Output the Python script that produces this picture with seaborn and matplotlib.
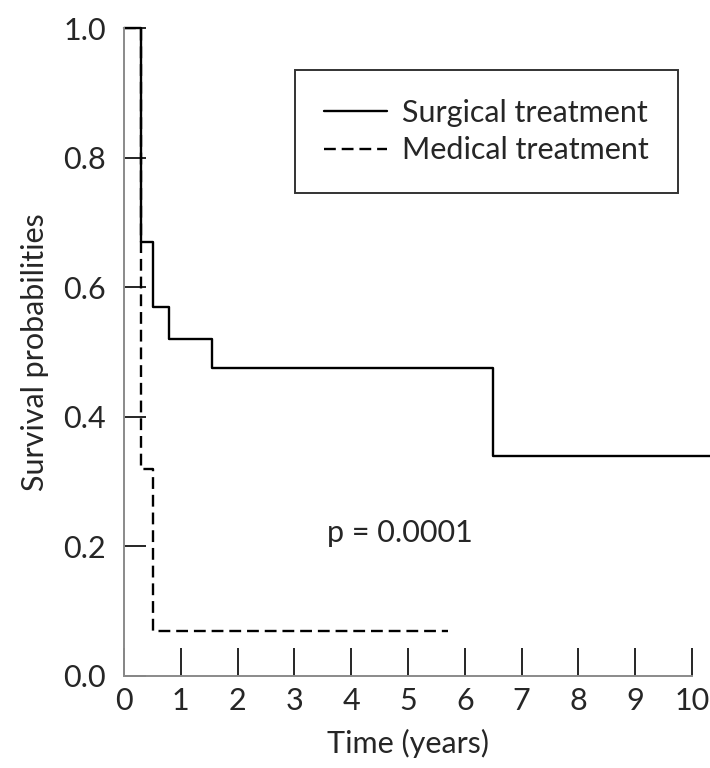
import numpy as np
import pandas as pd
import matplotlib
matplotlib.use("Agg")
import matplotlib.pyplot as plt
import seaborn as sns

sns.set_theme(style="white")
plt.rcParams['font.family'] = ['Lato', 'DejaVu Sans']

# Kaplan-Meier step data
surg_time = [0.0, 0.30, 0.51, 0.79, 1.55, 6.50, 10.45]
surg_surv = [1.0, 0.67, 0.57, 0.52, 0.475, 0.34, 0.34]
med_time = [0.0, 0.30, 0.51, 5.70]
med_surv = [1.0, 0.32, 0.07, 0.07]

x_ticks = list(range(0, 11))
y_ticks = [0.0, 0.2, 0.4, 0.6, 0.8, 1.0]

fig = plt.figure(figsize=(7.1, 7.68), dpi=100)
ax = fig.add_axes([0.1746, 0.1198, 0.80, 0.8437])

sns.lineplot(x=surg_time, y=surg_surv, ax=ax, drawstyle="steps-post",
             color="black", linewidth=1.7, estimator=None, sort=False,
             label="Surgical treatment", clip_on=False)
sns.lineplot(x=med_time, y=med_surv, ax=ax, drawstyle="steps-post",
             color="black", linewidth=1.7, estimator=None, sort=False,
             dashes=False, linestyle=(0, (5, 2.5)),
             label="Medical treatment")

ax.set_xlim(0, 10)
ax.set_ylim(0, 1.0)
ax.set_xticks(x_ticks)
ax.set_yticks(y_ticks)
ax.set_xticklabels([str(t) for t in x_ticks])
ax.set_yticklabels([f"{t:.1f}" for t in y_ticks])

for side in ["top", "right"]:
    ax.spines[side].set_visible(False)
for side in ["left", "bottom"]:
    ax.spines[side].set_color("#8a8a8a")
    ax.spines[side].set_linewidth(1.4)

ax.tick_params(axis="y", direction="in", length=16, width=1.2, color="black",
               pad=13, labelsize=22, left=True)
ax.tick_params(axis="x", direction="in", length=20, width=1.2, color="black",
               pad=8, labelsize=22, bottom=True)

ax.set_xlabel("Time (years)", fontsize=22, labelpad=10)
ax.set_ylabel("Survival probabilities", fontsize=22, labelpad=10)

ax.text(3.57, 0.22, "p = 0.0001", fontsize=22, va="center", ha="left")

leg = ax.legend(loc="upper right", bbox_to_anchor=(0.975, 0.935), fontsize=22,
                frameon=True, fancybox=False, edgecolor="black",
                handlelength=2.05, handletextpad=0.5, borderpad=0.95,
                labelspacing=0.3, borderaxespad=0)
leg.get_frame().set_linewidth(1.4)

fig.savefig("out.png", dpi=100)
